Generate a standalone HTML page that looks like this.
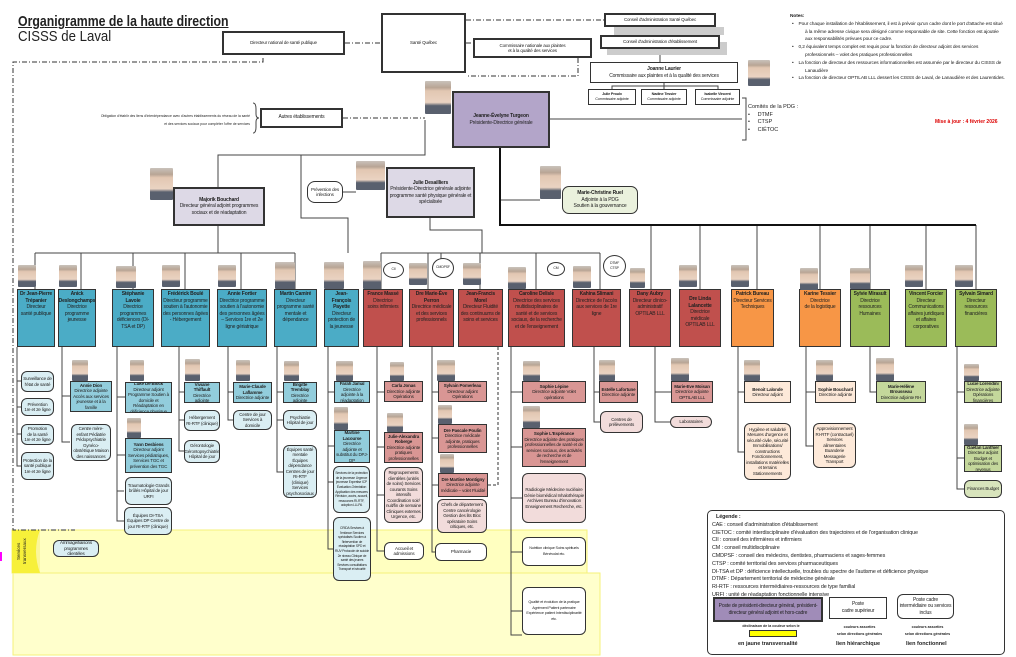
<!DOCTYPE html>
<html><head><meta charset="utf-8">
<style>
*{margin:0;padding:0;box-sizing:border-box}
body{width:1016px;height:657px;position:relative;background:#fff;font-family:"Liberation Sans",Arial,sans-serif;overflow:hidden;color:#222}
.a{position:absolute}
.b{position:absolute;border:1.5px solid #333;text-align:center;font-size:4.5px;line-height:5.5px;letter-spacing:-0.15px;display:flex;flex-direction:column;justify-content:center;align-items:center;overflow:hidden;padding:0 1px}
.t{justify-content:flex-start;padding-top:1px;font-size:5px;line-height:6.6px}
.r{border-radius:6px}
.bl{background:#4bacc6}.lb{background:#92cddc}.pb{background:#daeef3}
.rd{background:#c0504d}.pk{background:#d99694}.pp{background:#f2dcdb}
.or{background:#f79646}.po{background:#fcd5b4}.pe{background:#fde9d9}
.gr{background:#9bbb59}.lg{background:#c4d79b}.pg{background:#d8e4bc}
.lv{background:#ddd9e6}
.w{background:#fff}
.p{position:absolute;width:18px;height:22px;background:linear-gradient(#c9c2bb 0,#b8a595 20%,#e2c7b2 30%,#ead3c2 65%,#59606e 75%);border-radius:1px}
b{font-weight:bold}
</style></head><body>
<svg class="a" style="left:0;top:0" width="1016" height="657">
<rect x="12" y="530" width="575" height="43" fill="#ffffc0" stroke="#f5f27a"/>
<rect x="13" y="573" width="587" height="82" fill="#ffffcc" stroke="#f5f27a"/>
<rect x="12" y="530" width="28" height="43" fill="#f7f03a"/>
<path d="M40 530 q-8 21 0 43" fill="#fbf69a"/>
<line x1="1" y1="552" x2="1" y2="561" stroke="#f0f" stroke-width="2"/>
<g fill="none" stroke="#333" stroke-width="1" stroke-dasharray="5,2,1,2">
<path d="M345 43H381"/><path d="M466 20H604"/><path d="M466 43H473"/>
<path d="M263 58V62H13V530H75"/><path d="M343 118H425"/>
<path d="M578 58V76H466"/>
</g>
<path d="M498 347V485H487" fill="none" stroke="#333" stroke-dasharray="3,2"/>
<g fill="none" stroke="#444" stroke-width="1">
<path d="M664 27V35M660 48V62M664 83V89M612 89V86H718V89M664 86V89"/>
<path d="M550 119H742"/>
<path d="M742 98H746V140H742"/>
<path d="M253 103q3 0 3 6v5q0 4 3 4q-3 0-3 4v5q0 6-3 6"/>
<path d="M425 120V155H218V187M301 155V218H348V253"/>
<path d="M218 225V253M35 253H295M35 253V289M81 253V289M133 253V289M185 253V289M241 253V289M295 253V289"/>
<path d="M343 192H356"/>
<path d="M430 218V230H482V253M381 253H600M381 253V289M428 253V289M480 253V289M536 253V289M600 253V289M441 253V261M536 253V265"/>
<path d="M500 200H540"/>
<path d="M651 225V289M700 225V289M757 225V289M820 225V289M870 225V289M926 225V289M976 225V289"/>
<path d="M17 347V466H21M17 381H21M17 407H21M17 434H21"/>
<path d="M62 347V442H70M62 396H70"/>
<path d="M117 347V521H124M117 397H125M117 455H125M117 491H124"/>
<path d="M179 347V451H184M179 392H184M179 420H184"/>
<path d="M228 347V420H233M228 392H233"/>
<path d="M277 347V472H283M277 392H283M277 420H283"/>
<path d="M328 347V549H333M328 392H334M328 446H334M328 482H333"/>
<path d="M377 347V551H384M377 392H384M377 447H384M377 495H384"/>
<path d="M432 347V552H438M432 392H438M432 438H438M432 485H438"/>
<path d="M511 347V635H522M511 392H522M511 447H522M511 498H522M511 552H522M511 611H522"/>
<path d="M594 347V422H600M594 392H599"/>
<path d="M655 347V422H670M655 392H671"/>
<path d="M738 347V452H744M738 392H744"/>
<path d="M806 347V446H813M806 392H815"/>
<path d="M870 347V392H876"/>
<path d="M957 347V489H964M957 392H964M957 458H964"/>
</g>
<path d="M500 147V225H976" fill="none" stroke="#111" stroke-width="2"/>
<rect x="614" y="27" width="110" height="8" fill="#ccc"/><rect x="607" y="42" width="120" height="13" fill="#ccc"/>
</svg>

<div class="a" style="left:18px;top:14px;font-size:15px;font-weight:bold;text-decoration:underline;line-height:16px;transform:scaleX(0.82);transform-origin:left;white-space:nowrap">Organigramme de la haute direction</div>
<div class="a" style="left:18px;top:29px;font-size:15px;line-height:16px;transform:scaleX(0.88);transform-origin:left">CISSS de Laval</div>

<div class="b w" style="left:222px;top:31px;width:123px;height:24px;border-width:2px">Directeur national de santé publique</div>
<div class="b w" style="left:381px;top:13px;width:85px;height:60px;border-width:2px">Santé Québec</div>
<div class="b w" style="left:604px;top:13px;width:112px;height:14px;border-width:2px">Conseil d'administration Santé Québec</div>
<div class="b w" style="left:600px;top:35px;width:120px;height:14px;border-width:2px">Conseil d'administration d'établissement</div>
<div class="b w" style="left:473px;top:38px;width:119px;height:20px;border-width:2px">Commissaire nationale aux plaintes<br>et à la qualité des services</div>
<div class="b w" style="left:590px;top:62px;width:148px;height:21px;border-width:1px;font-size:5px;line-height:7px"><b>Joanne Laurier</b>Commissaire aux plaintes et à la qualité des services</div>
<div class="p" style="left:748px;top:60px;width:22px;height:26px"></div>
<div class="b w" style="left:588px;top:89px;width:48px;height:16px;font-size:3.8px;line-height:5px"><b>Julie Proulx</b>Commissaire adjointe</div>
<div class="b w" style="left:641px;top:89px;width:46px;height:16px;font-size:3.8px;line-height:5px"><b>Nadine Tessier</b>Commissaire adjointe</div>
<div class="b w" style="left:695px;top:89px;width:45px;height:16px;font-size:3.8px;line-height:5px"><b>Isabelle Vincent</b>Commissaire adjointe</div>
<div class="b lv" style="left:452px;top:91px;width:98px;height:57px;border-width:2px;background:#b3a5c9;font-size:5px;line-height:7px"><b>Jeanne-Évelyne Turgeon</b>Présidente-Directrice générale</div>
<div class="p" style="left:425px;top:81px;width:26px;height:33px"></div>
<div class="a" style="left:748px;top:104px;font-size:5.5px;line-height:7.5px">Comités de la PDG :<br>&bull;&nbsp;&nbsp;&nbsp;&nbsp;&nbsp;DTMF<br>&bull;&nbsp;&nbsp;&nbsp;&nbsp;&nbsp;CTSP<br>&bull;&nbsp;&nbsp;&nbsp;&nbsp;&nbsp;CIÉTOC</div>
<div class="a" style="left:790px;top:13px;width:215px;font-size:4.8px;line-height:7.8px;letter-spacing:-0.1px"><b>Notes:</b>
<div style="padding-left:15px;text-indent:-13px">&bull;&nbsp;&nbsp;&nbsp;&nbsp;Pour chaque installation de l'établissement, il est à prévoir qu'un cadre dont le port d'attache est situé à la même adresse civique sera désigné comme responsable de site. Cette fonction est ajoutée aux responsabilités prévues pour ce cadre.</div>
<div style="padding-left:15px;text-indent:-13px">&bull;&nbsp;&nbsp;&nbsp;&nbsp;0,2 équivalent temps complet est requis pour la fonction de directeur adjoint des services professionnels – volet des pratiques professionnelles</div>
<div style="padding-left:15px;text-indent:-13px">&bull;&nbsp;&nbsp;&nbsp;&nbsp;La fonction de directeur des ressources informationnelles est assumée par le directeur du CISSS de Lanaudière</div>
<div style="padding-left:15px;text-indent:-13px">&bull;&nbsp;&nbsp;&nbsp;&nbsp;La fonction de directeur OPTILAB LLL dessert les CISSS de Laval, de Lanaudière et des Laurentides.</div></div>
<div class="a" style="left:935px;top:119px;font-size:5px;color:#d00;font-weight:bold">Mise à jour : 4 février 2026</div>
<div class="a" style="left:100px;top:112px;width:150px;font-size:3.4px;line-height:8px;text-align:right">Obligation d'établir des liens d'interdépendance avec d'autres établissements du réseau de la santé et des services sociaux pour compléter l'offre de services</div>
<div class="b w" style="left:260px;top:108px;width:83px;height:20px;border-width:2px;font-size:5px">Autres établissements</div>

<div class="b lv" style="left:173px;top:187px;width:92px;height:39px;border-width:2px;font-size:5px;line-height:6.5px"><b>Majorik Bouchard</b>Directeur général adjoint programmes sociaux et de réadaptation</div>
<div class="p" style="left:150px;top:168px;width:23px;height:32px"></div>
<div class="b w r" style="left:307px;top:181px;width:36px;height:22px;border-radius:8px;font-size:4.5px">Prévention des infections</div>
<div class="b lv" style="left:386px;top:167px;width:89px;height:51px;border-width:2px;font-size:5px;line-height:6.5px"><b>Julie Desailliers</b>Présidente-Directrice générale adjointe programme santé physique générale et spécialisée</div>
<div class="p" style="left:356px;top:161px;width:29px;height:29px"></div>
<div class="b r" style="left:562px;top:186px;width:76px;height:28px;background:#eaf1dd;border-radius:7px;font-size:5px;line-height:6.5px"><b>Marie-Christine Ruel</b>Adjointe à la PDG<br>Soutien à la gouvernance</div>
<div class="p" style="left:540px;top:166px;width:21px;height:33px"></div>

<!-- director row -->
<div class="b bl t" style="left:17px;top:289px;width:38px;height:58px"><b>Dr Jean-Pierre Trépanier</b>Directeur<br>santé publique</div>
<div class="b bl t" style="left:58px;top:289px;width:38px;height:58px"><b>Anick Deslongchamps</b>Directrice<br>programme jeunesse</div>
<div class="b bl t" style="left:112px;top:289px;width:42px;height:58px"><b>Stéphanie Lavoie</b>Directrice programmes déficiences (DI-TSA et DP)</div>
<div class="b bl t" style="left:161px;top:289px;width:49px;height:58px"><b>Frédérick Boulé</b>Directeur programme soutien à l'autonomie des personnes âgées - Hébergement</div>
<div class="b bl t" style="left:217px;top:289px;width:50px;height:58px"><b>Annie Fortier</b>Directrice programme soutien à l'autonomie des personnes âgées – Services 1re et 2e ligne gériatrique</div>
<div class="b bl t" style="left:274px;top:289px;width:43px;height:58px"><b>Martin Camiré</b>Directeur programme santé mentale et dépendance</div>
<div class="b bl t" style="left:324px;top:289px;width:35px;height:58px"><b>Jean-François Payette</b>Directeur protection de la jeunesse</div>
<div class="b rd t" style="left:363px;top:289px;width:40px;height:58px"><b>France Massé</b>Directrice<br>soins infirmiers</div>
<div class="b rd t" style="left:409px;top:289px;width:45px;height:58px"><b>Dre Marie-Ève Perron</b>Directrice médicale et des services professionnels</div>
<div class="b rd t" style="left:458px;top:289px;width:45px;height:58px"><b>Jean-Francis Morel</b>Directeur Fluidité des continuums de soins et services</div>
<div class="b rd t" style="left:508px;top:289px;width:57px;height:58px"><b>Caroline Delisle</b>Directrice des services multidisciplinaires de santé et de services sociaux, de la recherche et de l'enseignement</div>
<div class="b rd t" style="left:572px;top:289px;width:49px;height:58px"><b>Kahina Slimani</b>Directrice de l'accès aux services de 1re ligne</div>
<div class="b rd t" style="left:629px;top:289px;width:42px;height:58px"><b>Dany Aubry</b>Directeur clinico-administratif OPTILAB LLL</div>
<div class="b rd t" style="left:679px;top:289px;width:42px;height:58px;padding-top:6px"><b>Dre Linda Lalancette</b>Directrice médicale OPTILAB LLL</div>
<div class="b or t" style="left:731px;top:289px;width:43px;height:58px"><b>Patrick Bureau</b>Directeur Services Techniques</div>
<div class="b or t" style="left:799px;top:289px;width:42px;height:58px"><b>Karine Tessier</b>Directrice<br>de la logistique</div>
<div class="b gr t" style="left:850px;top:289px;width:40px;height:58px"><b>Sylvie Mirasult</b>Directrice ressources Humaines</div>
<div class="b gr t" style="left:905px;top:289px;width:42px;height:58px"><b>Vincent Forcier</b>Directeur Communications affaires juridiques et affaires corporatives</div>
<div class="b gr t" style="left:955px;top:289px;width:42px;height:58px"><b>Sylvain Simard</b>Directeur ressources financières</div>
<!-- director photos -->
<div class="p" style="left:18px;top:265px"></div><div class="p" style="left:59px;top:265px"></div><div class="p" style="left:116px;top:266px;width:20px"></div><div class="p" style="left:162px;top:265px"></div><div class="p" style="left:218px;top:265px"></div><div class="p" style="left:275px;top:262px;width:20px;height:27px"></div><div class="p" style="left:324px;top:262px;width:20px;height:27px"></div><div class="p" style="left:363px;top:261px;width:18px;height:28px"></div><div class="p" style="left:409px;top:263px"></div><div class="p" style="left:463px;top:263px"></div><div class="p" style="left:508px;top:267px"></div><div class="p" style="left:573px;top:266px"></div><div class="p" style="left:630px;top:268px;width:15px;height:20px"></div><div class="p" style="left:679px;top:265px"></div><div class="p" style="left:731px;top:265px"></div><div class="p" style="left:800px;top:268px"></div><div class="p" style="left:850px;top:268px;width:20px;height:21px"></div><div class="p" style="left:905px;top:265px"></div><div class="p" style="left:955px;top:265px"></div>
<div class="b w r" style="left:383px;top:262px;width:21px;height:16px;border-width:1px;border-radius:50%;font-size:3.5px">CII</div>
<div class="b w r" style="left:432px;top:258px;width:22px;height:20px;border-width:1px;border-radius:50%;font-size:3.5px">CMDPSF</div>
<div class="b w r" style="left:547px;top:262px;width:18px;height:14px;border-width:1px;border-radius:50%;font-size:3.5px">CM</div>
<div class="b w r" style="left:603px;top:255px;width:23px;height:22px;border-width:1px;border-radius:50%;font-size:3.5px">DTMF<br>CTSP</div>

<!-- col1 -->
<div class="b pb r" style="left:21px;top:371px;width:33px;height:21px">Surveillance de l'état de santé</div>
<div class="b pb r" style="left:21px;top:398px;width:33px;height:18px">Prévention<br>1re et 2e ligne</div>
<div class="b pb r" style="left:21px;top:424px;width:33px;height:21px">Promotion<br>de la santé<br>1re et 2e ligne</div>
<div class="b pb r" style="left:21px;top:452px;width:33px;height:28px">Protection de la santé publique 1re et 2e ligne</div>
<!-- col2 -->
<div class="p" style="left:72px;top:360px;width:16px;height:21px"></div>
<div class="b lb" style="left:70px;top:381px;width:42px;height:31px"><b>Annie Dion</b>Directrice adjointe Accès aux services jeunesse et à la famille</div>
<div class="b pb r" style="left:71px;top:424px;width:40px;height:37px">Centre mère-enfant Pédiatrie Pédopsychiatrie Gynéco-obstétrique Maison des naissances</div>
<!-- col3 -->
<div class="p" style="left:130px;top:360px;width:14px;height:21px"></div>
<div class="b lb" style="left:125px;top:382px;width:47px;height:31px"><b>Luke De Block</b>Directeur adjoint Programme Soutien à domicile et Réadaptation en déficience physique</div>
<div class="p" style="left:127px;top:418px;width:14px;height:20px"></div>
<div class="b lb" style="left:125px;top:438px;width:47px;height:35px"><b>Yann Desbiens</b>Directeur adjoint Services pédiatriques, Services TGC et prévention des TGC</div>
<div class="b pb r" style="left:125px;top:477px;width:47px;height:28px">Traumatologie Grands brûlés Hôpital de jour URFI</div>
<div class="b pb r" style="left:124px;top:507px;width:48px;height:28px">Équipes DI-TSA Équipes DP Centre de jour RI-RTF (clinique)</div>
<!-- col4 -->
<div class="p" style="left:185px;top:359px;width:15px;height:22px"></div>
<div class="b lb" style="left:184px;top:382px;width:36px;height:21px"><b>Viviane Thiffault</b>Directrice adjointe</div>
<div class="b pb r" style="left:184px;top:410px;width:36px;height:21px">Hébergement RI-RTF (clinique)</div>
<div class="b pb r" style="left:184px;top:440px;width:36px;height:23px">Gérontologie Gérontopsychiatrie Hôpital de jour</div>
<!-- col5 -->
<div class="p" style="left:236px;top:360px;width:14px;height:21px"></div>
<div class="b lb" style="left:233px;top:382px;width:39px;height:21px"><b>Marie-Claude Laflamme</b>Directrice adjointe</div>
<div class="b pb r" style="left:233px;top:410px;width:39px;height:20px">Centre de jour Services à domicile</div>
<!-- col6 -->
<div class="p" style="left:284px;top:361px;width:15px;height:20px"></div>
<div class="b lb" style="left:283px;top:382px;width:34px;height:21px"><b>Brigitte Tremblay</b>Directrice adjointe</div>
<div class="b pb r" style="left:283px;top:410px;width:34px;height:20px">Psychiatrie Hôpital de jour</div>
<div class="b pb r" style="left:283px;top:445px;width:34px;height:53px">Équipes santé mentale Équipes dépendance Centres de jour RI-RTF (clinique) Services psychosociaux</div>
<!-- col7 -->
<div class="p" style="left:336px;top:361px;width:17px;height:20px"></div>
<div class="b lb" style="left:334px;top:381px;width:36px;height:22px"><b>Farah Jamal</b>Directrice adjointe à la réadaptation</div>
<div class="p" style="left:334px;top:407px;width:14px;height:23px"></div>
<div class="b lb" style="left:334px;top:430px;width:36px;height:33px"><b>Martine Lacourse</b>Directrice adjointe et substitut du DPJ-DP</div>
<div class="b pb r" style="left:333px;top:466px;width:37px;height:47px;font-size:3.3px;line-height:4.6px">Services de la protection de la jeunesse Urgence jeunesse Expertise ICP Évaluation-Orientation Application des mesures Révision, accès, accueil, ressources RI-RTF, adoption LLLPA</div>
<div class="b pb r" style="left:333px;top:517px;width:38px;height:64px;font-size:3.3px;line-height:4.6px">CRIDA Services à l'enfance Services spécialisés Soutien à l'intervention de réadaptation SPD et RUV Protocole de suicide 2e niveau Clinique de santé des jeunes Services consultations Transport et sécurité</div>
<!-- col8 -->
<div class="p" style="left:390px;top:362px;width:14px;height:19px"></div>
<div class="b pk" style="left:384px;top:381px;width:39px;height:21px"><b>Carla Jonas</b>Directrice adjointe Opérations</div>
<div class="p" style="left:387px;top:413px;width:16px;height:19px"></div>
<div class="b pk" style="left:384px;top:432px;width:39px;height:31px"><b>Julie-Alexandra Roberge</b>Directrice adjointe pratiques professionnelles</div>
<div class="b pp r" style="left:384px;top:467px;width:39px;height:56px">Regroupements clientèles (unités de soins) Services courants Soins intensifs Coordination soir/ nuit/fin de semaine Cliniques externes Urgence, etc.</div>
<div class="b w r" style="left:384px;top:542px;width:40px;height:18px">Accueil et admissions</div>
<!-- col9 -->
<div class="p" style="left:437px;top:360px;width:18px;height:21px"></div>
<div class="b pk" style="left:438px;top:381px;width:49px;height:21px"><b>Sylvain Pomerleau</b>Directeur adjoint Opérations</div>
<div class="p" style="left:438px;top:405px;width:14px;height:19px"></div>
<div class="b pk" style="left:438px;top:424px;width:49px;height:29px"><b>Dre Pascale Poulin</b>Directrice médicale adjointe, pratiques professionnelles</div>
<div class="p" style="left:440px;top:454px;width:14px;height:19px"></div>
<div class="b pk" style="left:438px;top:473px;width:50px;height:24px"><b>Dre Martine Montigny</b>Directrice adjointe médicale – volet Fluidité</div>
<div class="b pp r" style="left:437px;top:499px;width:50px;height:34px">Chefs de département Centre cancérologie Gestion des lits Bloc opératoire Soins critiques, etc.</div>
<div class="b w r" style="left:435px;top:543px;width:52px;height:18px">Pharmacie</div>
<!-- col11 -->
<div class="p" style="left:523px;top:361px;width:17px;height:20px"></div>
<div class="b pk" style="left:522px;top:381px;width:64px;height:22px"><b>Sophie Lépine</b>Directrice adjointe Volet opérations</div>
<div class="p" style="left:523px;top:406px;width:17px;height:22px"></div>
<div class="b pk" style="left:522px;top:428px;width:64px;height:39px"><b>Sophie L'Espérance</b>Directrice adjointe des pratiques professionnelles de santé et de services sociaux, des activités de recherche et de l'enseignement</div>
<div class="b pp r" style="left:522px;top:473px;width:64px;height:50px">Radiologie Médecine nucléaire Génie biomédical Inhalothérapie Archives Bureau d'innovation Enseignement Recherche, etc.</div>
<div class="b w r" style="left:522px;top:537px;width:64px;height:29px;font-size:3.8px">Nutrition clinique Soins spirituels Bénévolat etc.</div>
<div class="b w r" style="left:522px;top:587px;width:64px;height:48px;font-size:3.8px">Qualité et évolution de la pratique Agrément Patient partenaire Expérience patient Interdisciplinarité etc.</div>
<!-- col12 -->
<div class="p" style="left:599px;top:360px;width:16px;height:21px"></div>
<div class="b pk" style="left:599px;top:381px;width:39px;height:22px"><b>Estelle Lafortune</b>Directrice adjointe</div>
<div class="b pp r" style="left:600px;top:411px;width:43px;height:22px">Centres de prélèvements</div>
<!-- col13 -->
<div class="p" style="left:671px;top:358px;width:18px;height:23px"></div>
<div class="b pk" style="left:671px;top:381px;width:42px;height:22px"><b>Marie-Eve Moisan</b>Directrice adjointe OPTILAB LLL</div>
<div class="b pp r" style="left:670px;top:416px;width:42px;height:12px">Laboratoires</div>
<!-- col15 -->
<div class="p" style="left:744px;top:360px;width:16px;height:21px"></div>
<div class="b pe" style="left:744px;top:381px;width:47px;height:22px"><b>Benoit Lalonde</b>Directeur adjoint</div>
<div class="b pe r" style="left:744px;top:423px;width:47px;height:57px">Hygiène et salubrité Mesures d'urgence et sécurité civile, sécurité Immobilisations/ constructions Fonctionnement, installations matérielles et terrains Stationnements</div>
<!-- col16 -->
<div class="p" style="left:816px;top:360px;width:17px;height:21px"></div>
<div class="b pe" style="left:815px;top:381px;width:41px;height:22px"><b>Sophie Bouchard</b>Directrice adjointe</div>
<div class="b pe r" style="left:813px;top:423px;width:43px;height:45px">Approvisionnement RI-RTF (contractuel) Services alimentaires Buanderie Messagerie Transport</div>
<!-- col17 -->
<div class="p" style="left:876px;top:358px;width:18px;height:23px"></div>
<div class="b lg" style="left:876px;top:381px;width:50px;height:22px"><b>Marie-Hélène Brousseau</b>Directrice adjointe RH</div>
<!-- col19 -->
<div class="p" style="left:964px;top:364px;width:15px;height:17px"></div>
<div class="b lg" style="left:964px;top:381px;width:38px;height:22px"><b>Lucie Lorendini</b>Directrice adjointe Opérations financières</div>
<div class="p" style="left:964px;top:424px;width:14px;height:21px"></div>
<div class="b lg" style="left:964px;top:445px;width:38px;height:27px"><b>Gaétan Lanthier</b>Directeur adjoint Budget et optimisation des revenus</div>
<div class="b pg r" style="left:964px;top:480px;width:38px;height:18px">Finances Budget</div>

<!-- transversaux -->
<div class="a" style="left:16px;top:533px;width:20px;height:36px;font-size:4.5px;line-height:6px;writing-mode:vertical-rl;transform:rotate(180deg);text-align:center">Services transversaux</div>
<div class="b pb r" style="left:53px;top:540px;width:46px;height:17px">Arrimage/liaisons programmes clientèles</div>

<!-- legend -->
<div class="a" style="left:707px;top:510px;width:298px;height:145px;border:1.2px solid #333;border-radius:5px;font-size:5.4px;line-height:7.8px;letter-spacing:-0.1px;padding:3px 0 0 4px;white-space:nowrap">
<b style="margin-left:4px">Légende :</b><br>CAE : conseil d'administration d'établissement<br>CIETOC : comité interdisciplinaire d'évaluation des trajectoires et de l'organisation clinique<br>CII : conseil des infirmières et infirmiers<br>CM : conseil multidisciplinaire<br>CMDPSF : conseil des médecins, dentistes, pharmaciens et sages-femmes<br>CTSP : comité territorial des services pharmaceutiques<br>DI-TSA et DP : déficience intellectuelle, troubles du spectre de l'autisme et déficience physique<br>DTMF : Département territorial de médecine générale<br>RI-RTF : ressources intermédiaires-ressources de type familial<br><span style="line-height:6px">URFI : unité de réadaptation fonctionnelle intensive</span></div>
<div class="b" style="left:713px;top:597px;width:110px;height:25px;background:#a08cb8;border-width:2px;font-size:5px;line-height:6.5px">Poste de président-directeur général, président-directeur général adjoint et hors-cadre</div>
<div class="b w" style="left:829px;top:597px;width:58px;height:22px;font-size:5px;line-height:7px">Poste<br>cadre supérieur</div>
<div class="b w r" style="left:897px;top:594px;width:57px;height:25px;font-size:5px;line-height:6.5px">Poste cadre intermédiaire ou services inclus</div>
<div class="a" style="left:726px;top:624px;width:90px;font-size:3.6px;text-align:center;font-weight:bold">déclinaison de la couleur selon le</div>
<div class="a" style="left:749px;top:630px;width:48px;height:7px;background:#ff0;border:1px solid #333"></div>
<div class="a" style="left:738px;top:641px;font-size:5.5px;font-weight:bold">en jaune transversalité</div>
<div class="a" style="left:832px;top:624px;width:55px;font-size:3.6px;line-height:7px;text-align:center;font-weight:bold">couleurs assorties<br>selon directions générales</div>
<div class="a" style="left:836px;top:641px;font-size:5.5px;font-weight:bold">lien hiérarchique</div>
<div class="a" style="left:900px;top:624px;width:55px;font-size:3.6px;line-height:7px;text-align:center;font-weight:bold">couleurs assorties<br>selon directions générales</div>
<div class="a" style="left:906px;top:641px;font-size:5.5px;font-weight:bold">lien fonctionnel</div>
</body></html>
